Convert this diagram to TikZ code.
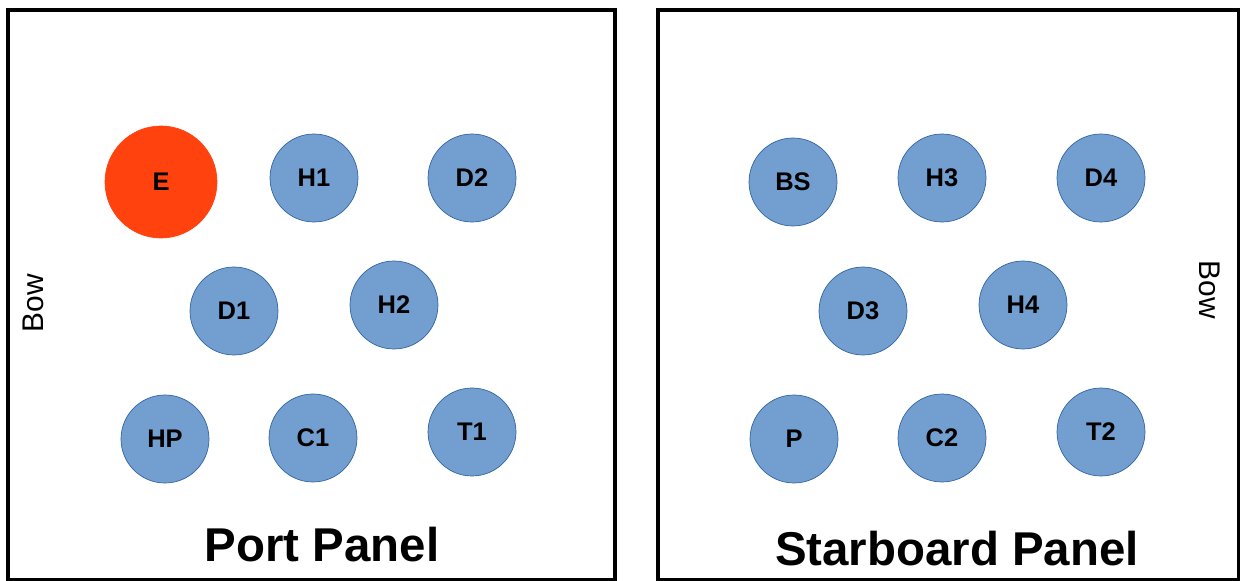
\documentclass[tikz,border=0pt]{standalone}
\usepackage{fontspec}
\setmainfont{Liberation Sans}
\usepackage{tikz}

\definecolor{ballblue}{HTML}{729FCF}
\definecolor{balledge}{HTML}{3465A4}
\definecolor{ballred}{HTML}{FF420E}

\begin{document}
\begin{tikzpicture}[x=0.02cm,y=-0.02cm]

        \useasboundingbox (0,0) rectangle (1240,581);

        % panels
        \begin{scope}[line width=2.3pt]
            \draw (8,10) rectangle (615,580);
            \draw (658,10) rectangle (1239,580);
        \end{scope}

        \begin{scope}[every node/.style={circle,draw=balledge,fill=ballblue,thin,inner sep=0pt,minimum size=1.76cm,font=\fontsize{14.5}{16}\selectfont\bfseries}]
            \node[fill=ballred,draw=ballred,minimum size=2.24cm] (e) at (161,182) {E};
            \node (h1) at (314,178) {H1};
            \node (d2) at (472,178) {D2};
            \node (d1) at (234,311) {D1};
            \node (h2) at (394,305) {H2};
            \node (hp) at (165,439) {HP};
            \node (c1) at (313,438) {C1};
            \node (t1) at (472,432) {T1};

            \node (bs) at (793,182) {BS};
            \node (h3) at (942,178) {H3};
            \node (d4) at (1101,178) {D4};
            \node (d3) at (863,311) {D3};
            \node (h4) at (1023,305) {H4};
            \node (p) at (794,439) {P};
            \node (c2) at (942,438) {C2};
            \node (t2) at (1101,432) {T2};
        \end{scope}

        \begin{scope}[every node/.style={inner sep=0pt,font=\fontsize{17}{19}\selectfont}]
            \node[rotate=90] (bowport) at (33,303) {Bow};
            \node[rotate=-90] (bowstar) at (1210,290) {Bow};
        \end{scope}

        \begin{scope}[every node/.style={anchor=base,inner sep=0pt,font=\fontsize{27}{30}\selectfont\bfseries}]
            \node (port) at (322,561) {Port Panel};
            \node (star) at (957,565) {Starboard Panel};
        \end{scope}

    \end{tikzpicture}
\end{document}
